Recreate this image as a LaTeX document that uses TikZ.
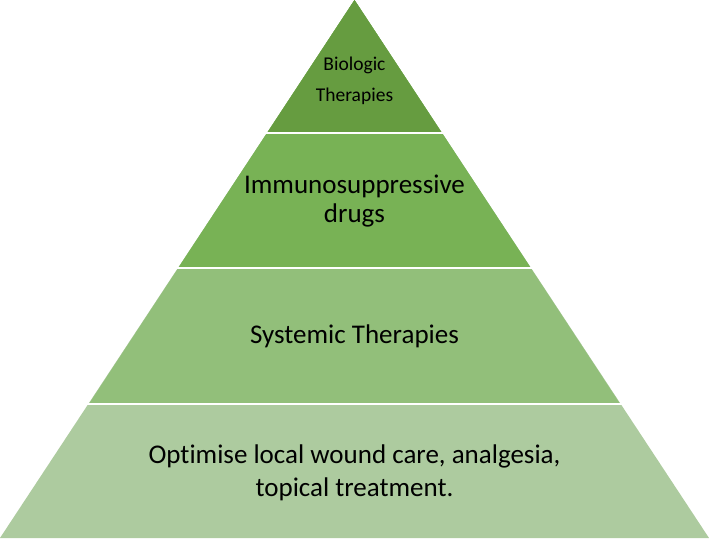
\documentclass[tikz,border=0pt]{standalone}
\usepackage{fontspec}
\setmainfont{Carlito}[Ligatures=NoCommon]
\definecolor{lev1}{HTML}{669C40}
\definecolor{lev2}{HTML}{78B255}
\definecolor{lev3}{HTML}{92BF7A}
\definecolor{lev4}{HTML}{ADCB9F}
\tikzset{
  label/.style={align=center, text=black, inner sep=0pt},
  sep/.style={white, line width=2pt}
}
\begin{document}
\begin{tikzpicture}[x=1pt,y=-1pt]
\useasboundingbox (0,0) rectangle (709,538);
\coordinate (apex) at (354.5,0);
\coordinate (bl) at (0,538);
\coordinate (br) at (709,538);
\fill[lev4] (bl) -- (br) -- (apex) -- cycle;
\fill[lev3] (apex) -- (88.9,404) -- (620.1,404) -- cycle;
\fill[lev2] (apex) -- (178.2,268) -- (530.8,268) -- cycle;
\fill[lev1] (apex) -- (267.1,133) -- (441.9,133) -- cycle;
\draw[sep] (0,133) -- (709,133);
\draw[sep] (0,268) -- (709,268);
\draw[sep] (0,404) -- (709,404);
\node[label, font=\fontsize{19.5}{31}\selectfont] (t1) at (354.5,81) {Biologic\\Therapies};
\node[label, font=\fontsize{27}{29}\selectfont] (t2) at (354.5,201) {Immunosuppressive\\drugs};
\node[label, font=\fontsize{27}{30}\selectfont] (t3) at (354.5,336) {Systemic Therapies};
\node[label, font=\fontsize{27}{33}\selectfont] (t4) at (354.5,473) {Optimise local wound care, analgesia,\\topical treatment.};
\end{tikzpicture}
\end{document}
